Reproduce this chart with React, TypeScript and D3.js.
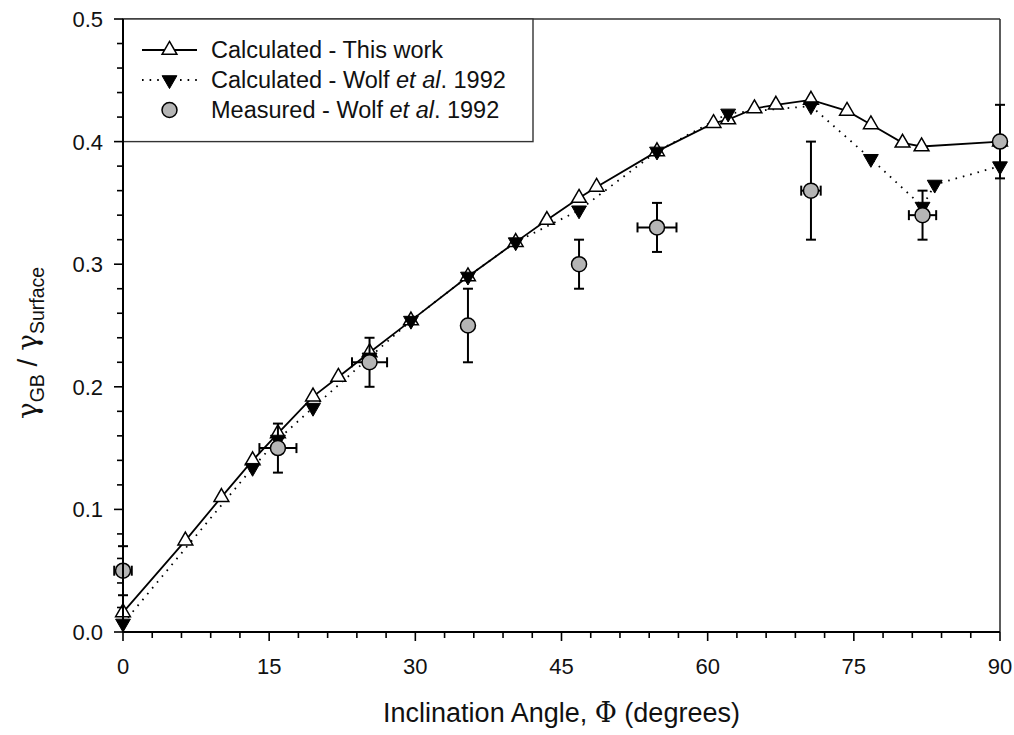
import React from 'react';
import * as d3 from 'd3';

// Calculated - This work
const thisWorkX = [0, 6.4, 10.1, 13.3, 15.9, 19.5, 22.1, 25.3, 29.55, 35.4, 40.3, 43.5, 46.8, 48.6, 54.8, 60.6, 62.1, 64.8, 67.0, 70.6, 74.3, 76.75, 80.0, 81.95, 90];
const thisWorkY = [0.016, 0.0745, 0.110, 0.140, 0.162, 0.192, 0.208, 0.228, 0.254, 0.290, 0.318, 0.336, 0.354, 0.363, 0.392, 0.415, 0.418, 0.427, 0.430, 0.434, 0.425, 0.414, 0.399, 0.396, 0.400];

// Calculated - Wolf et al. 1992
const wolfCalcX = [0, 13.3, 15.9, 19.5, 25.3, 29.55, 35.4, 40.3, 46.8, 54.8, 62.1, 70.6, 76.75, 82.05, 83.3, 90];
const wolfCalcY = [0.007, 0.134, 0.157, 0.183, 0.224, 0.254, 0.290, 0.318, 0.344, 0.392, 0.423, 0.429, 0.386, 0.347, 0.365, 0.380];

// Measured - Wolf et al. 1992
const measX = [0, 15.9, 25.3, 35.4, 46.8, 54.8, 70.6, 82.05, 90];
const measY = [0.05, 0.15, 0.22, 0.25, 0.30, 0.33, 0.36, 0.34, 0.40];
const measYErr = [0.02, 0.02, 0.02, 0.03, 0.02, 0.02, 0.04, 0.02, 0.03];
const measXErr = [0.9, 1.9, 1.8, 0, 0, 2.0, 1.0, 1.4, 0];

const xTicks = [0, 15, 30, 45, 60, 75, 90];
const yTicks = [0, 0.1, 0.2, 0.3, 0.4, 0.5];
const yTickLabels = ['0.0', '0.1', '0.2', '0.3', '0.4', '0.5'];

const legendLabels = ['Calculated - This work', 'Calculated - Wolf ', 'Measured - Wolf '];

const FONT = "'Liberation Sans', Arial, Helvetica, sans-serif";

export default function App() {
  const W = 1014, H = 735;
  const x = d3.scaleLinear().domain([0, 90]).range([123, 1000]);
  const y = d3.scaleLinear().domain([0, 0.5]).range([632, 19]);

  const line = d3.line<number>().x((d, i) => x(thisWorkX[i])).y((d) => y(d));
  const dotLine = d3.line<number>().x((d, i) => x(wolfCalcX[i])).y((d) => y(d));

  const triUp = d3.symbol(d3.symbolTriangle, 95)()!;

  const xMinor = d3.range(0, 91, 3);
  const yMinor = d3.range(0, 0.5001, 0.02);

  const capW = 5;

  const legX0 = 142, legX1 = 197, legMX = 169.5, legTX = 211;
  const legY = [50, 80, 110];

  return (
    <svg width={W} height={H} style={{ position: 'absolute', left: 0, top: 0, background: '#fff' }}
      fontFamily={FONT}>
      <rect x={0} y={0} width={W} height={H} fill="#fff" />
      {/* frame top/right */}
      <line x1={x(0)} x2={x(90)} y1={y(0.5)} y2={y(0.5)} stroke="#333" strokeWidth={1.6} />
      <line x1={x(90)} x2={x(90)} y1={y(0.5)} y2={y(0)} stroke="#333" strokeWidth={1.6} />

      {/* legend box */}
      <rect x={x(0)} y={y(0.5)} width={533 - x(0)} height={y(0.4) - y(0.5)} fill="#fff" stroke="#333" strokeWidth={1.4} />

      {/* lines */}
      <path d={dotLine(wolfCalcY)!} fill="none" stroke="#000" strokeWidth={1.8} strokeDasharray="1.6,6" />
      <path d={line(thisWorkY)!} fill="none" stroke="#000" strokeWidth={1.8} />

      {/* triangles up */}
      {thisWorkY.map((v, i) => (
        <path key={'t' + i} d={triUp} transform={`translate(${x(thisWorkX[i])},${y(v)})`}
          fill="#fff" stroke="#000" strokeWidth={1.5} />
      ))}
      {/* triangles down */}
      {wolfCalcY.map((v, i) => (
        <path key={'d' + i} d={triUp} transform={`translate(${x(wolfCalcX[i])},${y(v)}) rotate(180)`}
          fill="#000" stroke="#000" strokeWidth={1} />
      ))}

      {/* error bars */}
      {measY.map((v, i) => {
        const cx = x(measX[i]);
        const cy = y(v);
        const ye = measYErr[i];
        const xe = measXErr[i];
        return (
          <g key={'e' + i} stroke="#000" strokeWidth={2}>
            <line x1={cx} x2={cx} y1={y(v + ye)} y2={y(v - ye)} />
            <line x1={cx - capW} x2={cx + capW} y1={y(v + ye)} y2={y(v + ye)} />
            <line x1={cx - capW} x2={cx + capW} y1={y(v - ye)} y2={y(v - ye)} />
            {xe > 0 && (
              <>
                <line x1={x(measX[i] - xe)} x2={x(measX[i] + xe)} y1={cy} y2={cy} />
                <line x1={x(measX[i] - xe)} x2={x(measX[i] - xe)} y1={cy - capW} y2={cy + capW} />
                <line x1={x(measX[i] + xe)} x2={x(measX[i] + xe)} y1={cy - capW} y2={cy + capW} />
              </>
            )}
          </g>
        );
      })}
      {measY.map((v, i) => (
        <circle key={'c' + i} cx={x(measX[i])} cy={y(v)} r={7.5} fill="#b5b5b5" stroke="#000" strokeWidth={1.5} />
      ))}

      {/* axes */}
      <line x1={x(0)} x2={x(90)} y1={y(0)} y2={y(0)} stroke="#000" strokeWidth={2} />
      <line x1={x(0)} x2={x(0)} y1={y(0)} y2={y(0.5)} stroke="#000" strokeWidth={2} />
      {xMinor.map((t) => (
        <line key={'xm' + t} x1={x(t)} x2={x(t)} y1={y(0)} y2={y(0) + (t % 15 === 0 ? 9 : 6)} stroke="#000" strokeWidth={1.6} />
      ))}
      {yMinor.map((t, i) => (
        <line key={'ym' + i} x1={x(0)} x2={x(0) - (i % 5 === 0 ? 9 : 6)} y1={y(t)} y2={y(t)} stroke="#000" strokeWidth={1.6} />
      ))}
      {xTicks.map((t) => (
        <text key={'xl' + t} x={x(t)} y={674} textAnchor="middle" fontSize={22} fill="#111">{t}</text>
      ))}
      {yTicks.map((t, i) => (
        <text key={'yl' + i} x={103} y={y(t) + 8} textAnchor="end" fontSize={22} fill="#111">{yTickLabels[i]}</text>
      ))}

      {/* axis titles */}
      <text x={(x(0) + x(90)) / 2} y={722} textAnchor="middle" fontSize={27} fill="#111">
        Inclination Angle, <tspan fontFamily="'DejaVu Serif', serif">Φ</tspan> (degrees)
      </text>
      <text transform="translate(37,343) rotate(-90)" textAnchor="middle" fontSize={28} fill="#111">
        <tspan fontFamily="'DejaVu Serif', serif">γ</tspan>
        <tspan fontSize={19.5} dy={7}>GB</tspan>
        <tspan dy={-7}> / </tspan>
        <tspan fontFamily="'DejaVu Serif', serif">γ</tspan>
        <tspan fontSize={19.5} dy={7}>Surface</tspan>
      </text>

      {/* legend */}
      <line x1={legX0} x2={legX1} y1={legY[0]} y2={legY[0]} stroke="#000" strokeWidth={1.8} />
      <path d={triUp} transform={`translate(${legMX},${legY[0]})`} fill="#fff" stroke="#000" strokeWidth={1.5} />
      <line x1={legX0} x2={legX1} y1={legY[1]} y2={legY[1]} stroke="#000" strokeWidth={1.8} strokeDasharray="1.6,6" />
      <path d={triUp} transform={`translate(${legMX},${legY[1]}) rotate(180)`} fill="#000" stroke="#000" strokeWidth={1} />
      <circle cx={legMX} cy={legY[2]} r={7.5} fill="#b5b5b5" stroke="#000" strokeWidth={1.5} />
      <text x={legTX} y={legY[0] + 8} fontSize={23.5} fill="#111">{legendLabels[0]}</text>
      <text x={legTX} y={legY[1] + 8} fontSize={23.5} fill="#111">{legendLabels[1]}<tspan fontStyle="italic">et al</tspan>. 1992</text>
      <text x={legTX} y={legY[2] + 8} fontSize={23.5} fill="#111">{legendLabels[2]}<tspan fontStyle="italic">et al</tspan>. 1992</text>
    </svg>
  );
}
